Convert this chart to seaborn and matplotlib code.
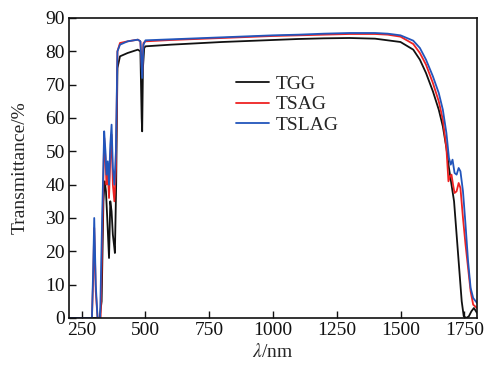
import numpy as np
import pandas as pd
import matplotlib
matplotlib.use("Agg")
import matplotlib.pyplot as plt
import seaborn as sns

# ---- data ----
wl_tgg = [200, 250, 300, 320, 328, 335, 340, 345, 350, 357, 362, 367, 372, 378, 380, 385, 390,
          400, 430, 470, 480, 485, 487, 490, 495, 500, 600, 700, 800, 900, 1000, 1100, 1200,
          1300, 1400, 1450, 1500, 1550, 1576, 1600, 1627, 1650, 1666, 1680, 1690, 1700, 1710,
          1720, 1730, 1740, 1748, 1758, 1768, 1778, 1788, 1800]
t_tgg = [0, 0, 0, 0, 5, 35, 41, 38, 30, 18, 35, 32, 25, 21, 19.5, 40, 75,
         78.5, 79.5, 80.5, 80, 60, 56, 75, 81, 81.5, 82, 82.4, 82.8, 83.1, 83.4, 83.7, 83.9,
         84, 83.8, 83.3, 82.8, 80.5, 77.5, 73.5, 68, 62.5, 57.5, 51, 45, 40, 35,
         25, 15, 5, 0.5, 0, 0.5, 2, 3, 1.5]

wl_tsag = [200, 290, 295, 299, 305, 312, 324, 332, 338, 343, 347, 352, 357, 362, 367, 372, 378,
           384, 390, 400, 430, 470, 480, 487, 492, 500, 600, 700, 800, 900, 1000, 1100, 1200,
           1300, 1400, 1450, 1500, 1550, 1576, 1600, 1627, 1650, 1666, 1680, 1688, 1694, 1700,
           1706, 1712, 1720, 1728, 1735, 1745, 1755, 1765, 1775, 1785, 1800]
t_tsag = [0, 0, 12, 27, 8, 0, 0, 30, 54, 48, 40, 44, 36, 48, 55, 40, 35,
          45, 80, 82.5, 83, 83.5, 83, 73, 82.5, 83, 83.4, 83.7, 84, 84.3, 84.6, 84.8, 85.0,
          85.2, 85.2, 85.0, 84.4, 82.2, 79.5, 76, 70.5, 65, 59.5, 51, 41, 42.5, 43,
          40, 37.5, 38, 40.5, 39, 30, 22, 15, 8, 4, 3]

wl_tslag = [200, 290, 295, 299, 305, 312, 322, 330, 338, 343, 347, 352, 357, 362, 367, 372, 378,
            384, 390, 400, 430, 470, 480, 487, 492, 500, 600, 700, 800, 900, 1000, 1100, 1200,
            1300, 1400, 1450, 1500, 1550, 1576, 1600, 1627, 1650, 1666, 1680, 1690, 1697, 1704,
            1712, 1720, 1728, 1735, 1745, 1755, 1765, 1775, 1785, 1800]
t_tslag = [0, 0, 15, 30, 10, 0, 0, 30, 56, 50, 43, 47, 40, 52, 58, 45, 40,
           50, 80, 82, 83, 83.5, 83, 72, 82, 83.3, 83.6, 83.9, 84.2, 84.5, 84.8, 85.0, 85.3,
           85.5, 85.5, 85.3, 84.8, 83.2, 81, 77.5, 72.5, 67.5, 62.5, 55.5, 48, 46, 47.5,
           43.5, 43, 45, 44, 38, 28, 17, 9, 6, 4.5]

series = ["TGG", "TSAG", "TSLAG"]
colors = ["#111111", "#ee2222", "#2255bb"]
x_ticks = [250, 500, 750, 1000, 1250, 1500, 1750]
y_ticks = [0, 10, 20, 30, 40, 50, 60, 70, 80, 90]

frames = []
for name, wl, t in zip(series, [wl_tgg, wl_tsag, wl_tslag], [t_tgg, t_tsag, t_tslag]):
    frames.append(pd.DataFrame({"wl": wl, "T": t, "sample": name}))
df = pd.concat(frames, ignore_index=True)

sns.set_style("white")
plt.rcParams["font.family"] = ["Liberation Serif", "DejaVu Serif"]
plt.rcParams["mathtext.fontset"] = "stix"

fig = plt.figure(figsize=(4.91, 3.65), dpi=100)
ax = fig.add_axes([0.1405, 0.1288, 0.831, 0.8219])

sns.lineplot(data=df, x="wl", y="T", hue="sample", hue_order=series,
             palette=dict(zip(series, colors)), sort=False, estimator=None,
             linewidth=1.3, ax=ax)

ax.set_xlim(200, 1800)
ax.set_ylim(0, 90)
ax.set_xticks(x_ticks)
ax.set_yticks(y_ticks)
ax.tick_params(axis="both", direction="in", length=5, width=1, labelsize=14,
               bottom=True, left=True, top=False, right=False, pad=3, colors="#111111")
for s in ax.spines.values():
    s.set_linewidth(1.2)
    s.set_color("#111111")

ax.set_xlabel(r"$\it{\lambda}$/nm", fontsize=14, labelpad=3)
ax.set_ylabel("Transmittance/%", fontsize=14, labelpad=12)

leg = ax.legend(loc="upper left", bbox_to_anchor=(0.39, 0.835), frameon=False,
                fontsize=14, handlelength=1.7, handletextpad=0.35, labelspacing=0.15,
                borderaxespad=0)

fig.savefig("out.png", dpi=100)
